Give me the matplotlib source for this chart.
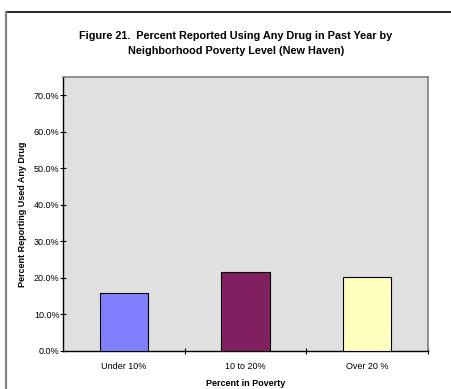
import matplotlib.pyplot as plt
from matplotlib.lines import Line2D
from matplotlib.ticker import FuncFormatter

categories = ["Under 10%", "10 to 20%", "Over 20 %"]
values = [16.0, 21.7, 20.2]
colors = ["#8080FF", "#802060", "#FFFFC0"]
y_ticks = [0, 10, 20, 30, 40, 50, 60, 70]

plt.rcParams["font.family"] = ["Liberation Sans", "DejaVu Sans"]

fig = plt.figure(figsize=(4.52, 3.89), dpi=100)
ax = fig.add_axes([0.1394, 0.0977, 0.8075, 0.7044])
ax.set_facecolor("#E0E0E0")

x = list(range(len(categories)))
ax.bar(x, values, width=0.4, color=colors, edgecolor="black", linewidth=0.8, zorder=3)

ax.set_xlim(-0.5, 2.5)
ax.set_ylim(0, 75)
ax.set_yticks(y_ticks)
ax.yaxis.set_major_formatter(FuncFormatter(lambda v, p: f"{v:.1f}%"))
ax.set_xticks(x)
ax.set_xticklabels(categories)
ax.set_xticks([0.5, 1.5, 2.5], minor=True)

ax.tick_params(axis="y", direction="inout", length=5, width=0.8, labelsize=6.5, pad=0)
ax.tick_params(axis="x", which="major", length=0, labelsize=6.5, pad=8)
ax.tick_params(axis="x", which="minor", direction="inout", length=5, width=0.8)

for side in ("left", "bottom"):
    ax.spines[side].set_color("black")
    ax.spines[side].set_linewidth(1.0)
for side in ("top", "right"):
    ax.spines[side].set_color("#808080")
    ax.spines[side].set_linewidth(1.2)

ax.set_xlabel("Percent in Poverty", fontsize=6.5, fontweight="bold", labelpad=6)
ax.set_ylabel("Percent Reporting Used Any Drug", fontsize=6.5, fontweight="bold", labelpad=5)

fig.text(0.522, 0.888, "Figure 21.  Percent Reported Using Any Drug in Past Year by\n"
         "Neighborhood Poverty Level (New Haven)",
         ha="center", va="center", fontsize=7.8, fontweight="bold", linespacing=1.7)

# outer chart frame (cut off at right and bottom)
fig.add_artist(Line2D([0.0133, 1.0], [0.969, 0.969], transform=fig.transFigure,
                      color="black", linewidth=1.2))
fig.add_artist(Line2D([0.0133, 0.0133], [0.0, 0.969], transform=fig.transFigure,
                      color="#808080", linewidth=1.6))

fig.savefig("out.png", dpi=100)
